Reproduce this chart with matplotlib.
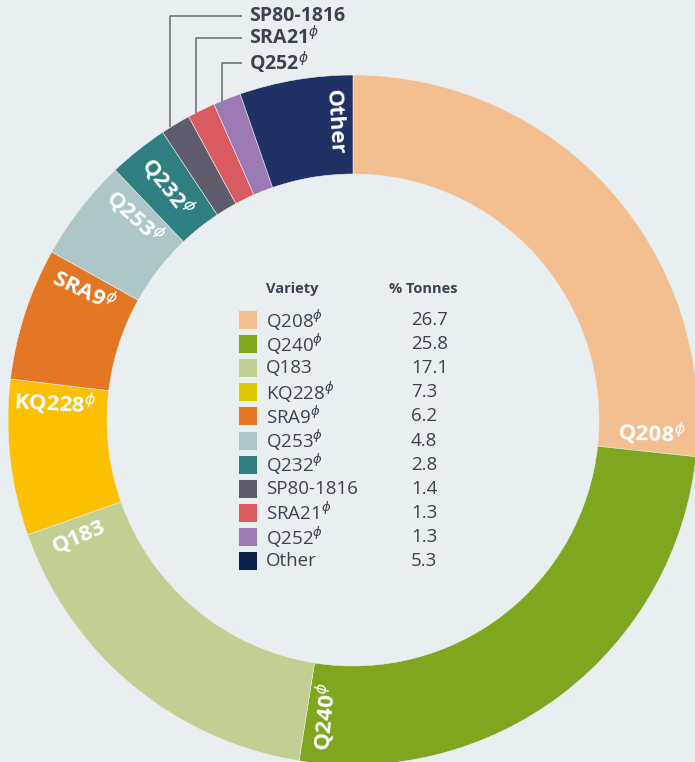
import numpy as np
import matplotlib
matplotlib.use("Agg")
import matplotlib.pyplot as plt

plt.rcParams['font.family'] = ['Open Sans', 'DejaVu Sans']

varieties = ["Q208", "Q240", "Q183", "KQ228", "SRA9", "Q253", "Q232",
             "SP80-1816", "SRA21", "Q252", "Other"]
pbr = [True, True, False, True, True, True, True, False, True, True, False]
tonnes = [26.7, 25.8, 17.1, 7.3, 6.2, 4.8, 2.8, 1.4, 1.3, 1.3, 5.3]
ring_colors = ["#F3BE90", "#80A51E", "#C1CF93", "#FBC000", "#E37724", "#AEC6C8",
               "#2F7F80", "#5E5B6A", "#D95B60", "#9B7AB5", "#213065"]
legend_colors = ["#F3BE90", "#80A51E", "#C1CF93", "#DEC800", "#E37724", "#AEC6C8",
                 "#2F7F80", "#5E5B6A", "#D95B60", "#9B7AB5", "#0B1F4A"]
ring_labelled = ["Q208", "Q240", "Q183", "KQ228", "SRA9", "Q253", "Q232", "Other"]
callout = ["SP80-1816", "SRA21", "Q252"]

bg = "#E9EEF1"
dark = "#3E4150"

def name(v, p):
    return v + r"$^{\phi}$" if p else v

fig = plt.figure(figsize=(6.95, 7.62), dpi=100, facecolor=bg)
ax = fig.add_axes([0, 0, 1, 1])
ax.set_facecolor(bg)

wedges, _ = ax.pie(tonnes, colors=ring_colors, startangle=90, counterclock=False,
                   radius=1.0, wedgeprops=dict(width=0.287, edgecolor=bg, linewidth=0.4))

# px -> data: center (353, 420), radius 345 px
ax.set_xlim((0 - 353) / 345, (695 - 353) / 345)
ax.set_ylim((420 - 762) / 345, (420 - 0) / 345)
ax.set_aspect('equal')
ax.axis('off')

# labels inside ring, near clockwise end of each wedge
for w, v, p in zip(wedges, varieties, pbr):
    if v not in ring_labelled:
        continue
    a = w.theta1 + 3.6
    if v == "Q232":
        a = (w.theta1 + w.theta2) / 2
    r = 0.865
    x, y = r * np.cos(np.radians(a)), r * np.sin(np.radians(a))
    rot = (a + 180) % 360 - 180
    if rot > 90:
        rot -= 180
    elif rot < -90:
        rot += 180
    ax.text(x, y, name(v, p), color="white", fontsize=16, fontweight="bold",
            rotation=rot, rotation_mode="anchor", ha="center", va="center")

# callouts for the small slices
label_y = [1.172, 1.108, 1.034]
x_end = (242 - 353) / 345
for v, ly in zip(callout, label_y):
    i = varieties.index(v)
    w = wedges[i]
    a = np.radians(w.theta2 - 0.3 * (w.theta2 - w.theta1))
    px, py = np.cos(a), np.sin(a)
    ax.plot([px, px, x_end], [py, ly, ly], color="#6E7380", lw=1.2,
            solid_capstyle="butt")
    ax.text(x_end + 0.02, ly, name(v, pbr[i]), color=dark, fontsize=14,
            fontweight="bold", ha="left", va="center")

# table legend in the middle
def px2x(p):
    return (p - 353) / 345

def py2y(p):
    return (420 - p) / 345

ax.text(px2x(266), py2y(289), "Variety", color=dark, fontsize=10.5,
        fontweight="bold", ha="left", va="center")
ax.text(px2x(389), py2y(289), "% Tonnes", color=dark, fontsize=10.5,
        fontweight="bold", ha="left", va="center")
row0, step = 320, 24.1
sw = 18 / 345
for k, (v, p, t, c) in enumerate(zip(varieties, pbr, tonnes, legend_colors)):
    yc = py2y(row0 + k * step)
    ax.add_patch(plt.Rectangle((px2x(239), yc - sw / 2), sw, sw, color=c, lw=0))
    ax.text(px2x(266), yc, name(v, p), color=dark, fontsize=13.5,
            ha="left", va="center")
    ax.text(px2x(411), yc, f"{t:.1f}", color=dark, fontsize=13.5,
            ha="left", va="center")

fig.savefig("out.png", dpi=100, facecolor=bg)
